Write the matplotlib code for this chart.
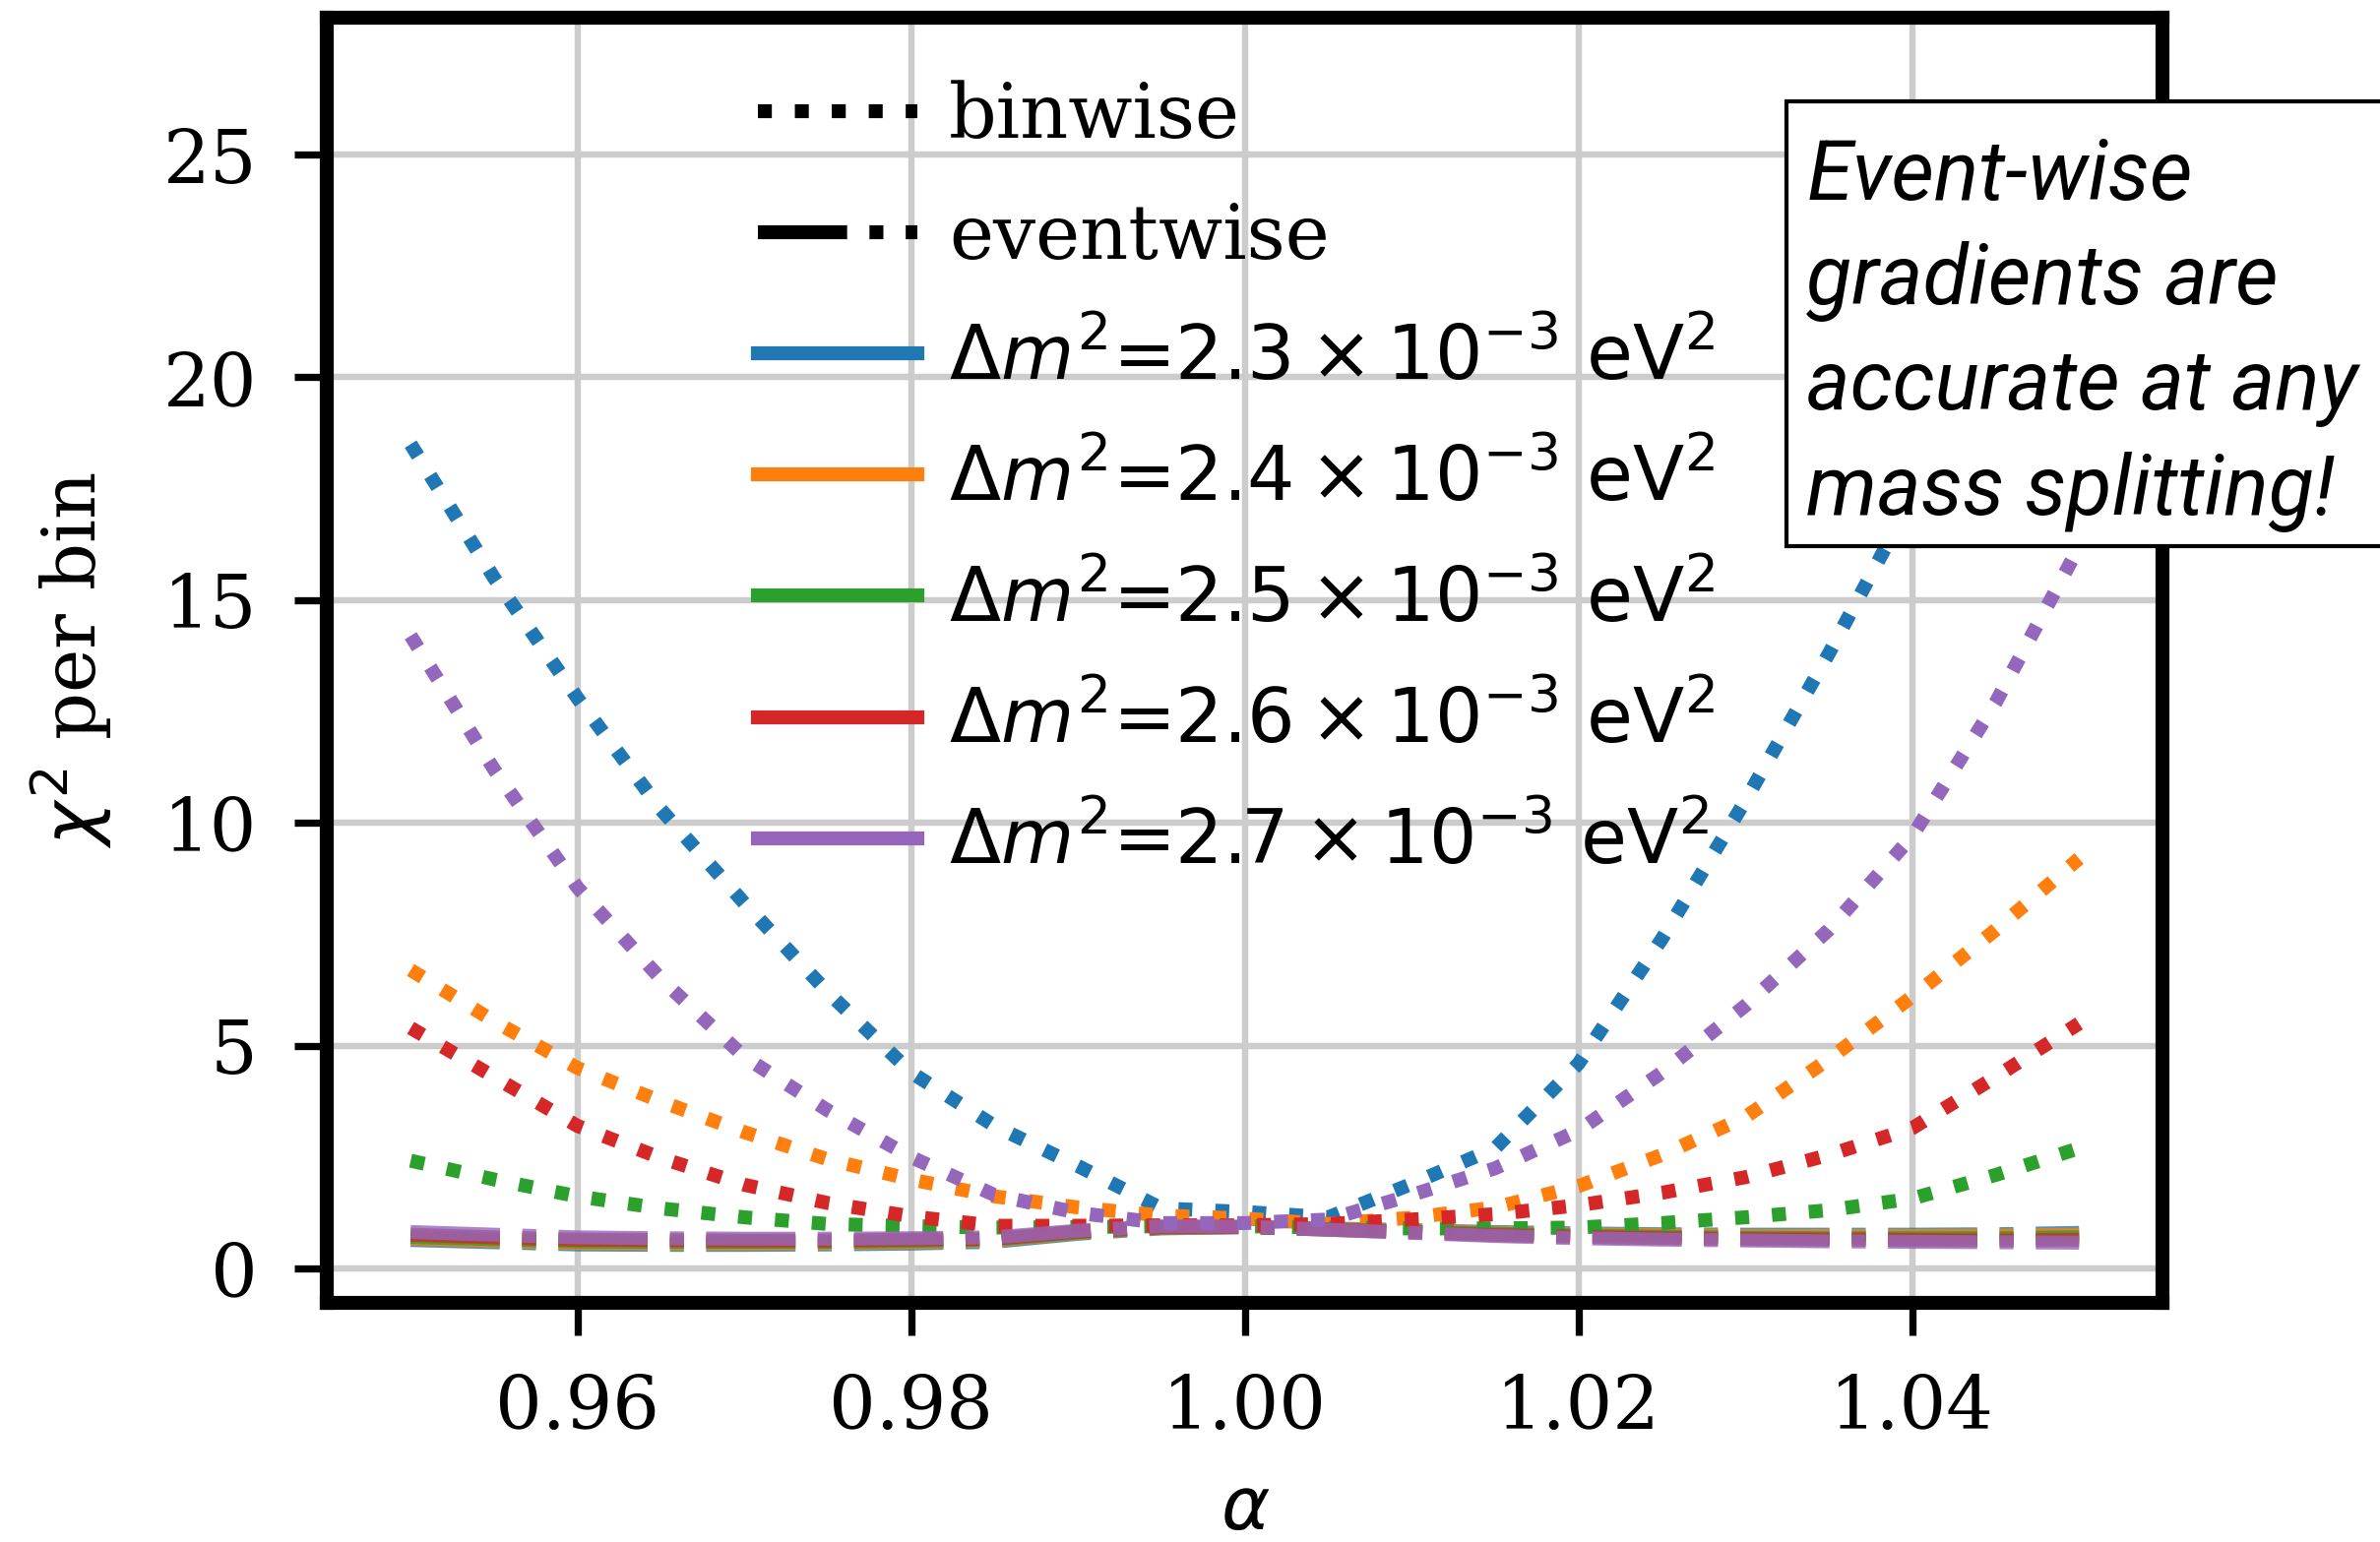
import numpy as np
import matplotlib
matplotlib.use("Agg")
import matplotlib.pyplot as plt
from matplotlib.patches import Rectangle

# scan points in the normalisation parameter alpha
alpha = [0.950, 0.955, 0.960, 0.965, 0.970, 0.975, 0.980, 0.985, 0.990, 0.995,
         1.000, 1.005, 1.010, 1.015, 1.020, 1.025, 1.030, 1.035, 1.040, 1.045, 1.050]

mass_splittings = ["2.3", "2.4", "2.5", "2.6", "2.7"]

# chi^2 per bin from the binned likelihood
binwise_23 = [18.5, 15.5, 12.8, 10.3, 8.2, 6.2, 4.4, 3.2, 2.3, 1.35, 1.27, 1.15, 1.9, 2.7, 4.6, 7.4, 10.5, 13.8, 17.3, 21.6, 26.5]
binwise_24 = [6.7, 5.55, 4.5, 3.75, 3.06, 2.45, 2.0, 1.62, 1.37, 1.19, 1.12, 1.0, 1.14, 1.37, 1.85, 2.55, 3.4, 4.7, 6.1, 7.6, 9.2]
binwise_25 = [2.42, 2.0, 1.62, 1.35, 1.15, 1.0, 0.95, 0.92, 0.93, 0.95, 0.95, 0.92, 0.9, 0.9, 0.92, 1.02, 1.15, 1.31, 1.57, 2.1, 2.7]
binwise_26 = [5.4, 4.3, 3.2, 2.48, 1.88, 1.47, 1.17, 0.96, 0.96, 0.97, 0.97, 1.0, 1.1, 1.22, 1.42, 1.7, 2.05, 2.55, 3.15, 4.3, 5.5]
binwise_27 = [14.2, 11.2, 8.55, 6.5, 4.75, 3.55, 2.5, 1.65, 1.25, 1.02, 1.02, 1.1, 1.65, 2.25, 3.1, 4.4, 5.9, 7.6, 9.7, 12.7, 16.2]

# chi^2 per bin from the unbinned (event-wise) likelihood
eventwise_23 = [0.64, 0.59, 0.54, 0.53, 0.53, 0.54, 0.56, 0.60, 0.78, 0.90, 0.93, 0.90, 0.86, 0.82, 0.79, 0.77, 0.76, 0.76, 0.76, 0.77, 0.80]
eventwise_24 = [0.67, 0.62, 0.57, 0.56, 0.56, 0.57, 0.59, 0.63, 0.80, 0.91, 0.93, 0.89, 0.85, 0.80, 0.77, 0.75, 0.73, 0.73, 0.73, 0.74, 0.76]
eventwise_25 = [0.71, 0.66, 0.61, 0.60, 0.60, 0.60, 0.62, 0.65, 0.81, 0.92, 0.93, 0.88, 0.83, 0.78, 0.74, 0.71, 0.69, 0.68, 0.68, 0.68, 0.70]
eventwise_26 = [0.76, 0.70, 0.65, 0.64, 0.63, 0.63, 0.65, 0.67, 0.83, 0.93, 0.93, 0.87, 0.81, 0.75, 0.71, 0.68, 0.66, 0.65, 0.64, 0.63, 0.64]
eventwise_27 = [0.82, 0.76, 0.70, 0.68, 0.67, 0.67, 0.68, 0.70, 0.85, 0.95, 0.94, 0.87, 0.80, 0.73, 0.68, 0.65, 0.63, 0.61, 0.60, 0.59, 0.58]

binwise = [binwise_23, binwise_24, binwise_25, binwise_26, binwise_27]
eventwise = [eventwise_23, eventwise_24, eventwise_25, eventwise_26, eventwise_27]
colors = ["#1f77b4", "#ff7f0e", "#2ca02c", "#d62728", "#9467bd"]

plt.rcParams["font.family"] = "DejaVu Serif"
plt.rcParams["mathtext.fontset"] = "dejavusans"

LW = 3.4

fig = plt.figure(figsize=(2418 / 300, 1567 / 300), dpi=300)
ax = fig.add_axes([0.1375, 0.1548, 0.9086 - 0.1375, 0.9888 - 0.1548])

for b, e, c in zip(binwise, eventwise, colors):
    ax.plot(alpha, b, color=c, lw=LW, ls=":")
    ax.plot(alpha, e, color=c, lw=LW, ls="-.", alpha=0.8)

ax.set_xlim(0.945, 1.055)
ax.set_ylim(-0.78, 28.08)
ax.set_xticks([0.96, 0.98, 1.00, 1.02, 1.04])
ax.set_yticks([0, 5, 10, 15, 20, 25])
ax.set_xticklabels(["0.96", "0.98", "1.00", "1.02", "1.04"])

ax.grid(True, color="#cccccc", lw=1.55)
ax.set_axisbelow(True)
for s in ax.spines.values():
    s.set_linewidth(3.4)
    s.set_color("black")
ax.tick_params(axis="both", which="major", length=8, width=1.75, pad=9,
               labelsize=18, direction="out")

ax.set_xlabel(r"$\alpha$", fontsize=18, labelpad=7)
ax.set_ylabel(r"$\chi^2$ per bin", fontsize=18, labelpad=12)

# legend: line style keys followed by colour keys
handles = [
    plt.Line2D([], [], color="black", lw=LW, ls=":"),
    plt.Line2D([], [], color="black", lw=LW, ls="-."),
]
labels = ["binwise", "eventwise"]
for m, c in zip(mass_splittings, colors):
    handles.append(plt.Line2D([], [], color=c, lw=LW))
    labels.append(r"$\Delta m^2$=$%s\times10^{-3}$ $\mathrm{eV}^2$" % m)

ax.legend(handles, labels, loc="upper left", bbox_to_anchor=(0.2185, 0.974),
          frameon=False, fontsize=18.3, handlelength=2.12, handletextpad=0.42,
          labelspacing=0.64, borderaxespad=0.0)

# annotation box, running off the right-hand side of the figure
ax.add_patch(Rectangle((0.795, 0.5888), 0.33, 0.9346 - 0.5888,
                       transform=ax.transAxes, facecolor="white",
                       edgecolor="black", lw=1.0, clip_on=False, zorder=9))
ax.text(0.806, 0.6132,
        "Event-wise\ngradients are\naccurate at any\nmass splitting!",
        transform=ax.transAxes, ha="left", va="baseline", fontsize=20.3,
        family="Roboto", style="italic", linespacing=1.39, zorder=10)

fig.savefig("out.png", dpi=300)
